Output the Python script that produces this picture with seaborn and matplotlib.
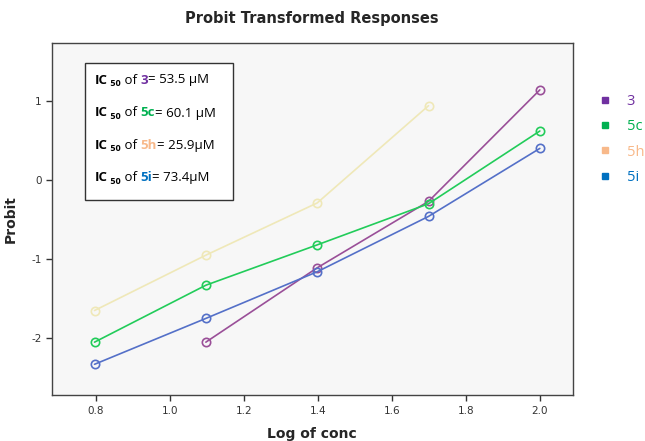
import matplotlib
matplotlib.use("Agg")
import matplotlib.pyplot as plt
import seaborn as sns
import pandas as pd
from matplotlib.lines import Line2D
from matplotlib.patches import Rectangle

log_conc = [0.796, 1.097, 1.398, 1.699, 2.0]
series_names = ["3", "5c", "5h", "5i"]
probit_3 = [None, -2.05, -1.11, -0.27, 1.14]
probit_5c = [-2.05, -1.33, -0.82, -0.30, 0.62]
probit_5h = [-1.65, -0.95, -0.29, 0.94, None]
probit_5i = [-2.33, -1.75, -1.16, -0.46, 0.40]
ic50_values = ["53.5 µM", "60.1 µM", "25.9µM", "73.4µM"]

line_colors = {"3": "#9a4f98", "5c": "#22cc5a", "5h": "#efe8b8", "5i": "#5470c8"}
legend_colors = {"3": "#7030a0", "5c": "#00b050", "5h": "#f8b98a", "5i": "#0070c0"}

rows = []
for name, vals in zip(series_names, [probit_3, probit_5c, probit_5h, probit_5i]):
    for x, y in zip(log_conc, vals):
        if y is not None:
            rows.append({"Log of conc": x, "Probit": y, "series": name})
df = pd.DataFrame(rows)

sns.set_style("ticks")
plt.rcParams["font.family"] = ["DejaVu Sans"]

fig = plt.figure(figsize=(6.45, 4.41), dpi=100)
ax = fig.add_axes([0.0806, 0.104, 0.8074, 0.798])
ax.set_facecolor("#f7f7f7")

sns.lineplot(data=df, x="Log of conc", y="Probit", hue="series",
             palette=line_colors, marker="o", markersize=6, linewidth=1.2,
             legend=False, ax=ax)
for ln in ax.lines:
    c = ln.get_color()
    ln.set_markerfacecolor("none")
    ln.set_markeredgecolor(c)
    ln.set_markeredgewidth(1.2)

ax.set_xlim(0.681, 2.089)
ax.set_ylim(-2.72, 1.73)
ax.set_xticks([0.8, 1.0, 1.2, 1.4, 1.6, 1.8, 2.0])
ax.set_xticklabels(["0.8", "1.0", "1.2", "1.4", "1.6", "1.8", "2.0"])
ax.set_yticks([1, 0, -1, -2])
ax.set_yticklabels(["1", "0", "-1", "-2"])
ax.tick_params(axis="both", labelsize=7.5, length=4, width=1, colors="#333333")
for s in ax.spines.values():
    s.set_visible(True)
    s.set_color("#444444")
    s.set_linewidth(1)
ax.set_xlabel("Log of conc", fontsize=10, fontweight="bold", labelpad=8)
ax.set_ylabel("Probit", fontsize=10, fontweight="bold", labelpad=10)
fig.text(0.484, 0.957, "Probit Transformed Responses", ha="center", va="center",
         fontsize=10.5, fontweight="bold")

# IC50 box
box = Rectangle((85 / 645, 1 - 200 / 441), (233 - 85) / 645, (200 - 63) / 441,
                transform=fig.transFigure, facecolor="white", edgecolor="#333333",
                linewidth=1, zorder=5)
fig.add_artist(box)

fig.canvas.draw()
renderer = fig.canvas.get_renderer()
fam = ["Open Sans", "DejaVu Sans"]
line_y = [80, 113, 145, 178]
for i, name in enumerate(series_names):
    y = 1 - line_y[i] / 441
    x = 95 / 645
    pieces = [("IC", 9.5, "bold", "black", 0),
              (" 50", 6.5, "bold", "black", -0.008),
              (" of ", 9.5, "normal", "black", 0),
              (name, 9.5, "bold", legend_colors[name], 0),
              ("= " + ic50_values[i], 9.5, "normal", "black", 0)]
    for txt, fs, fw, col, dy in pieces:
        t = fig.text(x, y + dy, txt, fontsize=fs, fontweight=fw, color=col,
                     ha="left", va="center", family=fam, zorder=6)
        bb = t.get_window_extent(renderer)
        x += bb.width / fig.bbox.width

# legend
handles = [Line2D([0], [0], marker="s", linestyle="none", markersize=5,
                  markerfacecolor=legend_colors[n], markeredgecolor=legend_colors[n])
           for n in series_names]
leg = fig.legend(handles, series_names, loc="upper left",
                 bbox_to_anchor=(585 / 645, 1 - 81 / 441), frameon=False,
                 handlelength=1.0, handletextpad=0.95, labelspacing=0.7,
                 borderaxespad=0.5,
                 labelcolor=[legend_colors[n] for n in series_names],
                 prop={"family": fam, "size": 10.5})

fig.savefig("out.png", dpi=100, facecolor="white")
